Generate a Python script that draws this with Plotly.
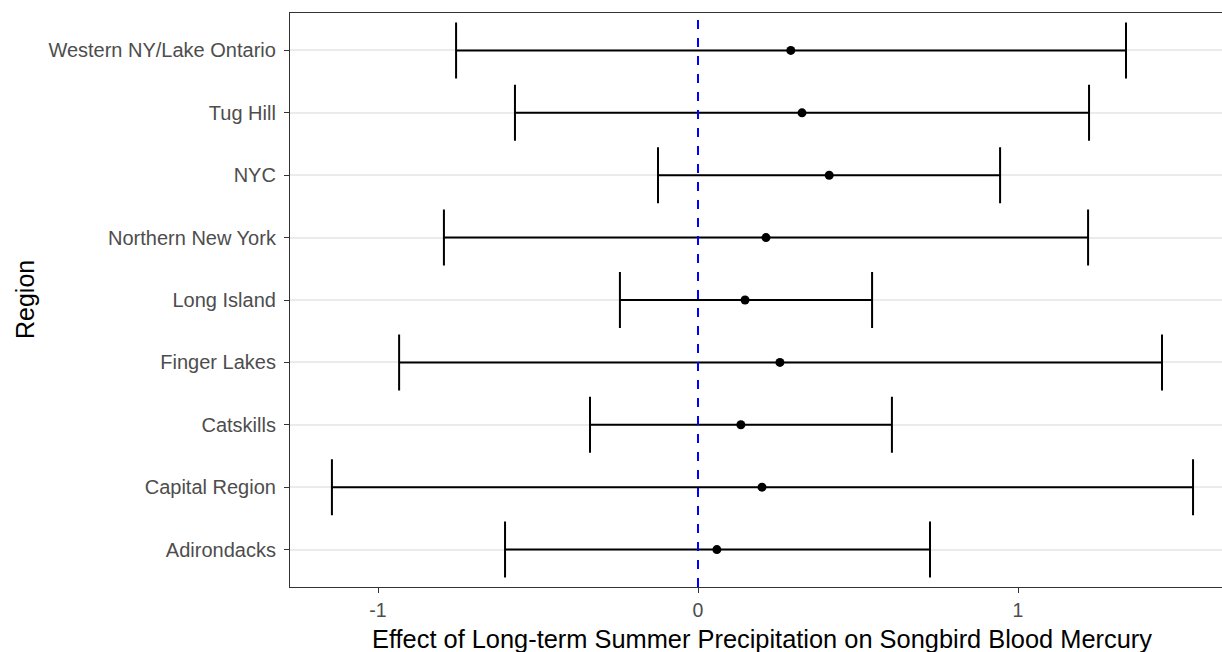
import plotly.graph_objects as go

regions = ["Adirondacks", "Capital Region", "Catskills", "Finger Lakes", "Long Island",
           "Northern New York", "NYC", "Tug Hill", "Western NY/Lake Ontario"]
estimate = [0.059, 0.200, 0.134, 0.256, 0.147, 0.2125, 0.410, 0.325, 0.290]
lower = [-0.603, -1.144, -0.3375, -0.934, -0.244, -0.794, -0.125, -0.572, -0.756]
upper = [0.725, 1.547, 0.606, 1.450, 0.544, 1.219, 0.944, 1.222, 1.3375]

ypos = list(range(len(regions)))
err_plus = [u - e for u, e in zip(upper, estimate)]
err_minus = [e - l for e, l in zip(estimate, lower)]

fig = go.Figure()
fig.add_trace(go.Scatter(
    x=estimate, y=ypos, mode="markers",
    marker=dict(color="black", size=9),
    error_x=dict(type="data", symmetric=False, array=err_plus, arrayminus=err_minus,
                 color="black", thickness=2, width=28),
    showlegend=False,
))

fig.add_shape(type="line", x0=0, x1=0, y0=0, y1=1, xref="x", yref="paper",
              line=dict(color="blue", width=2, dash="dash"))

fig.add_annotation(text="Effect of Long-term Summer Precipitation on Songbird Blood Mercury",
                   xref="paper", yref="paper", x=472/932, y=-52/574, xanchor="center", yanchor="middle",
                   showarrow=False, font=dict(size=25.4, color="black"))
fig.add_annotation(text="Region", textangle=-90,
                   xref="paper", yref="paper", x=-265/932, y=0.5, xanchor="center", yanchor="middle",
                   showarrow=False, font=dict(size=25, color="black"))

fig.update_layout(
    width=1222, height=652,
    margin=dict(l=290, r=0, t=13, b=65),
    paper_bgcolor="white", plot_bgcolor="white",
    font=dict(family="Liberation Sans, Arial, sans-serif"),
    xaxis=dict(range=[-1.275, 1.6375], tickvals=[-1, 0, 1], ticktext=["-1", "0", "1"],
               showgrid=False, zeroline=False, showline=True, linecolor="#333333", linewidth=1.2,
               mirror=True, ticks="outside", ticklen=5, tickcolor="#333333",
               tickfont=dict(size=19.5, color="#4D4D4D")),
    yaxis=dict(range=[-0.6, 8.6], tickvals=ypos, ticktext=regions,
               showgrid=True, gridcolor="#EBEBEB", gridwidth=1.5, zeroline=False,
               showline=True, linecolor="#333333", linewidth=1.2,
               ticks="outside", ticklen=5, tickcolor="#333333", ticklabelstandoff=4,
               tickfont=dict(size=20, color="#4D4D4D")),
)

fig.write_html("out.html")
